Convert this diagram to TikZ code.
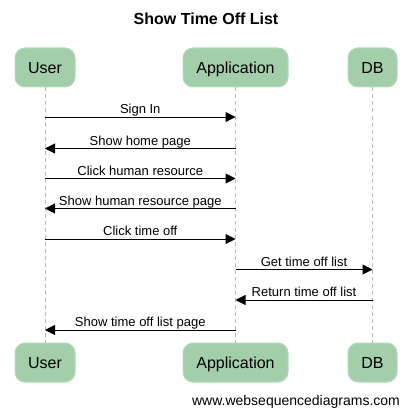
\documentclass[tikz,border=0pt]{standalone}
\usepackage{fontspec}
\setmainfont{Liberation Sans}
\usetikzlibrary{arrows.meta}
\definecolor{actorfill}{HTML}{A2CFAA}
\definecolor{actordraw}{HTML}{B4D9BA}
\definecolor{lifegray}{HTML}{BBBBBB}
\tikzset{
  actor/.style={draw=actordraw, line width=1pt, fill=actorfill, rounded corners=10pt, minimum height=39pt, inner sep=0pt, text height=11.5pt, text depth=0pt, font=\fontsize{16}{18}\selectfont},
  lifeline/.style={draw=lifegray, line width=0.8pt, dash pattern=on 4pt off 3pt},
  msg/.style={draw=black, line width=1pt, -{Triangle[length=10pt,width=10pt]}},
  msglabel/.style={font=\fontsize{13}{15}\selectfont, inner sep=0pt, anchor=base, yshift=3.5pt},
}
\begin{document}
\begin{tikzpicture}[x=1pt,y=-1pt]
\useasboundingbox (0,0) rectangle (411,417);
\node[font=\bfseries\fontsize{16}{18}\selectfont] (title) at (206,19) {Show Time Off List};
% actors
\node[actor, minimum width=60pt] (userT) at (45,67.5) {User};
\node[actor, minimum width=105pt] (appT) at (235.5,67.5) {Application};
\node[actor, minimum width=49pt] (dbT) at (372.5,67.5) {DB};
\node[actor, minimum width=60pt] (userB) at (45,362.5) {User};
\node[actor, minimum width=105pt] (appB) at (235.5,362.5) {Application};
\node[actor, minimum width=49pt] (dbB) at (372.5,362.5) {DB};
\draw[lifeline] (userT) -- (userB);
\draw[lifeline] (appT) -- (appB);
\draw[lifeline] (dbT) -- (dbB);
% message points
\coordinate (u1) at (45,117);   \coordinate (a1) at (235.5,117);
\coordinate (u2) at (45,148.5); \coordinate (a2) at (235.5,148.5);
\coordinate (u3) at (45,178.5); \coordinate (a3) at (235.5,178.5);
\coordinate (u4) at (45,208.5); \coordinate (a4) at (235.5,208.5);
\coordinate (u5) at (45,239);   \coordinate (a5) at (235.5,239);
\coordinate (a6) at (235.5,269.5); \coordinate (d6) at (372.5,269.5);
\coordinate (a7) at (235.5,300);   \coordinate (d7) at (372.5,300);
\coordinate (u8) at (45,330);   \coordinate (a8) at (235.5,330);
\draw[msg] (u1) -- node[msglabel] (l1) {Sign In} (a1);
\draw[msg] (a2) -- node[msglabel] (l2) {Show home page} (u2);
\draw[msg] (u3) -- node[msglabel] (l3) {Click human resource} (a3);
\draw[msg] (a4) -- node[msglabel] (l4) {Show human resource page} (u4);
\draw[msg] (u5) -- node[msglabel] (l5) {Click time off} (a5);
\draw[msg] (a6) -- node[msglabel] (l6) {Get time off list} (d6);
\draw[msg] (d7) -- node[msglabel] (l7) {Return time off list} (a7);
\draw[msg] (a8) -- node[msglabel] (l8) {Show time off list page} (u8);
\node[font=\fontsize{14}{16}\selectfont] (footer) at (296,401.5) {www.websequencediagrams.com};
\end{tikzpicture}
\end{document}
